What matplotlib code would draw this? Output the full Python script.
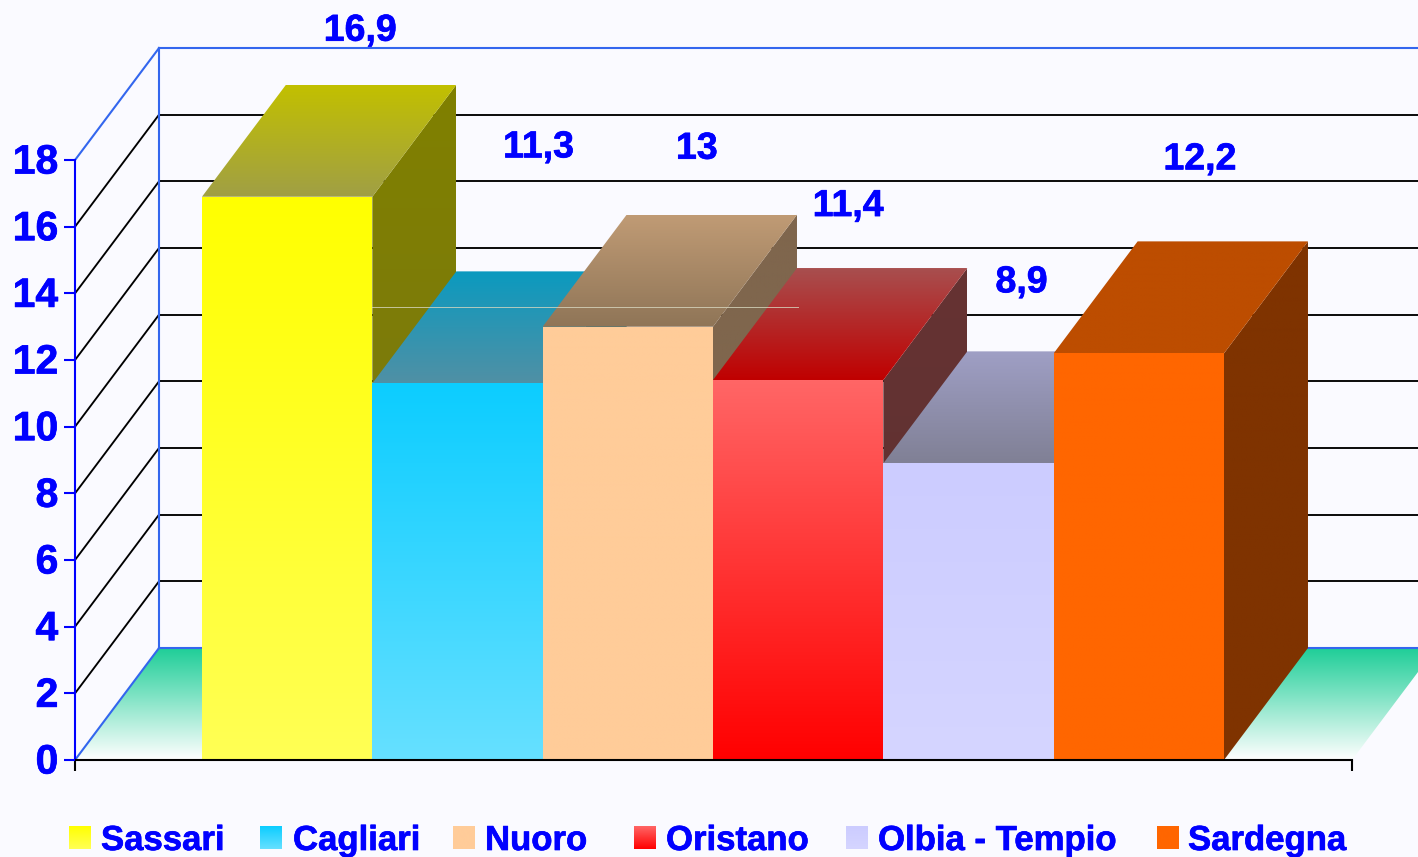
import numpy as np
import matplotlib
matplotlib.use("Agg")
import matplotlib.pyplot as plt
import matplotlib.patheffects as pe
from matplotlib.patches import Polygon
from matplotlib.colors import to_rgb
from matplotlib.transforms import ScaledTranslation

# ---- data ----
categories = ["Sassari", "Cagliari", "Nuoro", "Oristano", "Olbia - Tempio", "Sardegna"]
values = [16.9, 11.3, 13, 11.4, 8.9, 12.2]
value_labels = ["16,9", "11,3", "13", "11,4", "8,9", "12,2"]
y_ticks = [0, 2, 4, 6, 8, 10, 12, 14, 16, 18]

# ---- styles ----
front_top = ["#ffff00", "#0ccdff", "#ffcc99", "#ff6666", "#ccccff", "#ff6600"]
front_bottom = ["#ffff55", "#66e0ff", "#ffcc99", "#ff0000", "#d5d5ff", "#ff6600"]
roof_back = ["#c2c000", "#0b9abf", "#c09b75", "#a84f4f", "#9f9fc5", "#bd4d00"]
roof_front = ["#a09f45", "#5090a5", "#8f7557", "#c00000", "#808095", "#bd4d00"]
side_top = ["#808000", "#0b7a99", "#7f664d", "#663333", "#66667f", "#7f3300"]
side_bottom = ["#787518", "#0b7a99", "#7f664d", "#5c3030", "#66667f", "#7f3300"]

BG = "#fafaff"
BLUE = "#0000ff"
ROYAL = "#3366ee"
W, H = 1418, 857
PX_X = 170.33   # pixels per category
PX_Y = 33.33    # pixels per unit of value
X0_PX, Y0_PX = 202, 760
DX = 84 / PX_X  # depth of the 3D effect
DY = 112 / PX_Y
AX_L = (75 - X0_PX) / PX_X
AX_R = (1352 - X0_PX) / PX_X

# label offsets from the bar's top-centre, pixels
label_dx = [73, 81, 69, 50, 53, 61]
label_dy = [166, 236, 178, 174, 181, 194]
# legend layout, pixels
legend_swatch_px = [69, 260, 453, 634, 846, 1157]
legend_text_px = [101, 293, 485, 666, 878, 1188]
STROKE = [pe.withStroke(linewidth=0.5, foreground=BLUE)]


def px_x(p):
    return (p - X0_PX) / PX_X


def px_y(p):
    return (Y0_PX - p) / PX_Y


plt.rcParams["font.family"] = ["Liberation Sans", "DejaVu Sans"]
fig = plt.figure(figsize=(W / 100, H / 100), dpi=100, facecolor=BG)
ax = fig.add_axes([0, 0, 1, 1], facecolor=BG)


def gradient(poly, c_top, c_bottom, z):
    """Vertical gradient clipped to a polygon."""
    poly = np.array(poly, dtype=float)
    t = np.linspace(0, 1, 256)[:, None, None]
    arr = (1 - t) * np.array(to_rgb(c_top))[None, None, :] + t * np.array(to_rgb(c_bottom))[None, None, :]
    im = ax.imshow(arr, extent=(poly[:, 0].min(), poly[:, 0].max(), poly[:, 1].min(), poly[:, 1].max()),
                   origin="upper", aspect="auto", interpolation="bilinear", zorder=z)
    patch = Polygon(poly, closed=True, facecolor="none", edgecolor="none", transform=ax.transData)
    ax.add_patch(patch)
    im.set_clip_path(patch)


XMAX = px_x(W)
XMIN = px_x(0)
YMIN = px_y(H)
YMAX = px_y(0)

# floor
gradient([(AX_L, 0), (AX_L + DX, DY), (AX_R + DX, DY), (AX_R, 0)], "#1fce98", "#ffffff", 0.5)

# walls and grid
for v in y_ticks[1:-1]:
    ax.plot([AX_L, AX_L + DX], [v, v + DY], color="black", lw=1.35, zorder=0.8)
    ax.plot([AX_L + DX, XMAX], [v + DY, v + DY], color="black", lw=1.35, zorder=0.8)
for v in (y_ticks[0], y_ticks[-1]):
    ax.plot([AX_L, AX_L + DX], [v, v + DY], color=ROYAL, lw=1.5, zorder=0.9)
    ax.plot([AX_L + DX, XMAX], [v + DY, v + DY], color=ROYAL, lw=1.5, zorder=0.9)
ax.plot([AX_L + DX, AX_L + DX], [DY, y_ticks[-1] + DY], color=ROYAL, lw=1.5, zorder=0.9)

# bars, painted left to right
for i, v in enumerate(values):
    z = 1 + i * 0.1
    gradient([(i + 1, 0), (i + 1 + DX, DY), (i + 1 + DX, v + DY), (i + 1, v)],
             side_top[i], side_bottom[i], z)
    gradient([(i, v), (i + DX, v + DY), (i + 1 + DX, v + DY), (i + 1, v)],
             roof_back[i], roof_front[i], z + 0.01)
    gradient([(i, 0), (i, v), (i + 1, v), (i + 1, 0)],
             front_top[i], front_bottom[i], z + 0.02)
    ax.annotate(value_labels[i], xy=(i + 0.5, v), xytext=(label_dx[i], label_dy[i]),
                textcoords="offset pixels", ha="center", va="center",
                color=BLUE, fontsize=27, fontweight="bold", zorder=5, path_effects=STROKE)

# thin pale artefact line crossing the upper bars
ax.plot([1, 3.5], [px_y(307), px_y(307)], color="#d8d8c0", lw=0.7, alpha=0.8, zorder=2.2)

# axes
for s in ("top", "right"):
    ax.spines[s].set_visible(False)
ax.spines["left"].set_position(("data", AX_L))
ax.spines["left"].set_bounds(y_ticks[0], y_ticks[-1])
ax.spines["left"].set_color(BLUE)
ax.spines["left"].set_linewidth(1.5)
ax.spines["bottom"].set_position(("data", 0))
ax.spines["bottom"].set_bounds(AX_L, AX_R)
ax.spines["bottom"].set_color("black")
ax.spines["bottom"].set_linewidth(1.5)
ax.set_axisbelow(False)
ax.set_yticks(y_ticks)
ax.set_yticklabels([str(v) for v in y_ticks], fontsize=29.5, fontweight="bold", color=BLUE)
ax.tick_params(axis="y", direction="out", length=8, width=1.5, color=BLUE, pad=4)
shift = ScaledTranslation(0, 1.5 / 100, fig.dpi_scale_trans)
for lab in ax.get_yticklabels():
    lab.set_transform(lab.get_transform() + shift)
    lab.set_path_effects(STROKE)
ax.set_xticks([AX_L, AX_R])
ax.set_xticklabels(["", ""])
ax.tick_params(axis="x", direction="out", length=8, width=1.5, color="black")

# legend
sw_w = 22 / PX_X
for i, name in enumerate(categories):
    l = px_x(legend_swatch_px[i])
    gradient([(l, px_y(849)), (l, px_y(826)), (l + sw_w, px_y(826)), (l + sw_w, px_y(849))],
             front_top[i], front_bottom[i], 3)
    ax.text(px_x(legend_text_px[i]), px_y(837), name, color=BLUE, fontsize=25, fontweight="bold",
            ha="left", va="center_baseline", zorder=5, path_effects=STROKE)

ax.set_xlim(XMIN, XMAX)
ax.set_ylim(YMIN, YMAX)
fig.savefig("out.png", dpi=100, facecolor=BG)
